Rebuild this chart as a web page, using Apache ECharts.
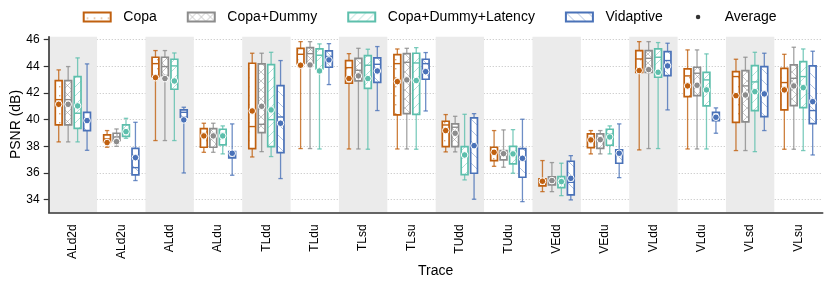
<!DOCTYPE html>
<html><head><meta charset="utf-8">
<script src="https://cdn.jsdelivr.net/npm/echarts@6/dist/echarts.min.js"></script>
<style>html,body{margin:0;padding:0;background:#fff}#c{width:831px;height:283px}</style>
</head><body><div id="c"></div>
<script>
// ---- data ----
const categories = ['ALd2d','ALd2u','ALdd','ALdu','TLdd','TLdu','TLsd','TLsu','TUdd','TUdu','VEdd','VEdu','VLdd','VLdu','VLsd','VLsu'];
const yTicks = [34, 36, 38, 40, 42, 44, 46];
const seriesNames = ['Copa', 'Copa+Dummy', 'Copa+Dummy+Latency', 'Vidaptive'];
const averageName = 'Average';

// [low whisker, Q1, median, Q3, high whisker]
const copaBox = [
  [38.33, 39.60, 41.50, 42.93, 43.73], [37.93, 38.33, 38.55, 38.85, 39.18],
  [38.43, 43.23, 44.20, 44.68, 45.18], [37.55, 37.93, 38.95, 39.33, 39.73],
  [37.20, 37.83, 39.48, 44.23, 44.98], [37.83, 44.20, 44.90, 45.35, 45.85],
  [37.80, 42.73, 43.90, 44.43, 44.95], [37.80, 40.35, 44.20, 44.88, 45.30],
  [37.58, 37.98, 39.60, 39.88, 40.38], [36.50, 36.93, 37.50, 37.93, 39.18],
  [34.60, 35.03, 35.30, 35.55, 36.93], [37.43, 37.90, 38.50, 38.93, 39.18],
  [37.73, 43.55, 44.55, 45.18, 45.85], [37.80, 41.73, 43.28, 43.80, 45.23],
  [37.68, 39.80, 43.23, 43.60, 44.53], [37.78, 40.73, 42.78, 43.85, 44.90]
];
const copaMean = [41.15, 38.28, 43.15, 38.78, 40.65, 44.08, 43.08, 42.85, 39.18, 37.55, 35.38, 38.48, 43.68, 42.53, 41.80, 42.23];

const dummyBox = [
  [38.33, 39.60, 41.50, 42.93, 43.98], [38.00, 38.43, 38.70, 38.98, 39.30],
  [38.43, 43.30, 43.98, 44.68, 45.18], [37.55, 37.93, 38.95, 39.33, 39.73],
  [37.60, 39.03, 39.65, 44.18, 44.98], [37.83, 44.23, 44.95, 45.40, 45.85],
  [37.80, 42.90, 43.70, 44.60, 45.35], [37.80, 40.45, 44.30, 44.95, 45.35],
  [37.58, 37.98, 39.43, 39.68, 40.25], [36.43, 36.98, 37.45, 37.68, 39.23],
  [34.60, 35.10, 35.40, 35.70, 36.78], [37.43, 37.85, 38.50, 38.93, 39.18],
  [37.83, 43.55, 44.60, 45.18, 45.85], [37.80, 41.80, 43.48, 43.93, 45.23],
  [37.68, 39.83, 42.53, 43.68, 44.68], [37.78, 41.05, 43.10, 44.10, 45.43]
];
const dummyMean = [41.15, 38.35, 43.08, 38.78, 41.00, 44.10, 43.28, 42.98, 38.98, 37.45, 35.43, 38.50, 43.75, 42.58, 41.85, 42.53];

const latencyBox = [
  [38.33, 39.35, 40.48, 43.23, 44.63], [38.60, 38.75, 39.20, 39.60, 40.10],
  [38.43, 42.28, 44.03, 44.53, 45.00], [37.43, 38.10, 38.90, 39.28, 39.53],
  [37.23, 37.98, 40.00, 44.13, 45.05], [37.80, 43.80, 44.83, 45.30, 45.68],
  [37.78, 42.35, 44.08, 44.80, 45.28], [37.78, 40.40, 44.25, 44.98, 45.40],
  [35.48, 35.88, 37.40, 37.98, 40.40], [35.98, 36.68, 37.45, 38.00, 39.25],
  [34.30, 34.90, 35.35, 35.73, 36.73], [37.43, 38.08, 38.93, 39.28, 39.53],
  [37.83, 43.18, 44.68, 45.30, 45.78], [37.80, 41.03, 42.98, 43.55, 44.93],
  [37.60, 40.68, 42.83, 44.05, 45.05], [37.68, 40.90, 43.23, 44.35, 45.30]
];
const latencyMean = [41.03, 39.10, 42.90, 38.78, 40.73, 43.65, 43.08, 42.93, 37.35, 37.43, 35.35, 38.70, 43.55, 42.23, 42.10, 42.40];

const vidaptiveBox = [
  [37.70, 39.18, 40.00, 40.55, 44.18], [35.43, 35.85, 36.40, 37.85, 39.80],
  [36.00, 40.18, 40.55, 40.73, 40.93], [35.83, 37.13, 37.30, 37.60, 39.68],
  [35.58, 37.53, 40.20, 42.55, 44.43], [42.63, 43.93, 44.73, 45.15, 45.70],
  [40.68, 42.80, 44.15, 44.63, 45.48], [40.65, 43.03, 44.20, 44.53, 45.03],
  [34.03, 35.98, 38.10, 40.13, 40.45], [33.85, 35.68, 37.00, 37.83, 40.03],
  [33.98, 34.35, 35.30, 36.88, 37.30], [35.65, 36.73, 37.60, 37.73, 39.68],
  [40.73, 43.30, 44.43, 45.10, 45.73], [38.98, 39.93, 40.18, 40.55, 40.88],
  [39.18, 40.23, 42.00, 43.98, 44.98], [37.35, 39.70, 40.68, 44.03, 45.13]
];
const vidaptiveMean = [39.93, 37.15, 39.98, 37.48, 39.73, 44.48, 43.65, 43.60, 38.05, 37.10, 35.60, 37.48, 44.03, 40.18, 41.93, 41.35];

// ---- styling ----
const colors = ['#c0600f', '#8c8c8c', '#5dbfac', '#4a72b8'];
const hatchColors = ['rgba(192,96,15,0.55)', 'rgba(140,140,140,0.6)', 'rgba(93,191,172,0.6)', 'rgba(74,114,184,0.55)'];
const offsets = [-0.293, -0.0977, 0.0977, 0.293];
const FONT = '"Liberation Sans", Arial, Helvetica, sans-serif';

function makePattern(kind, color) {
  const cv = document.createElement('canvas');
  let w = 8, h = 8;
  if (kind === 'dot') { w = 7; h = 9; }
  if (kind === 'x') { w = 9; h = 9; }
  if (kind === 'fwd') { w = 9; h = 9; }
  if (kind === 'back') { w = 11; h = 11; }
  cv.width = w; cv.height = h;
  const g = cv.getContext('2d');
  g.fillStyle = '#fff'; g.fillRect(0, 0, w, h);
  g.strokeStyle = color; g.fillStyle = color; g.lineWidth = 0.8;
  const line = (a, b, c, d) => { g.beginPath(); g.moveTo(a, b); g.lineTo(c, d); g.stroke(); };
  if (kind === 'dot') {
    g.fillRect(3, 5, 1.4, 1.4);
  } else if (kind === 'x') {
    line(0, 0, w, h); line(w, 0, 0, h);
  } else if (kind === 'fwd') {
    line(0, h, w, 0); line(-1, 1, 1, -1); line(w - 1, h + 1, w + 1, h - 1);
  } else if (kind === 'back') {
    line(0, 0, w, h); line(w - 1, -1, w + 1, 1); line(-1, h - 1, 1, h + 1);
  }
  return { image: cv, repeat: 'repeat' };
}
const patterns = [
  makePattern('dot', hatchColors[0]), makePattern('x', hatchColors[1]),
  makePattern('fwd', hatchColors[2]), makePattern('back', hatchColors[3])
];

const boxSets = [copaBox, dummyBox, latencyBox, vidaptiveBox];
const meanSets = [copaMean, dummyMean, latencyMean, vidaptiveMean];

function makeRender(si) {
  return function (params, api) {
    const ci = api.value(0);
    const band = api.size([1, 0])[0];
    const cx = api.coord([ci, 40])[0] + offsets[si] * band;
    const y = (k) => api.coord([ci, api.value(k)])[1];
    const yLo = y(1), yQ1 = y(2), yMed = y(3), yQ3 = y(4), yHi = y(5), yMean = y(6);
    const bw = 6.8, capW = 4.4;
    const col = colors[si];
    const wStyle = { stroke: col, lineWidth: 1.3, opacity: 0.8 };
    return {
      type: 'group',
      children: [
        { type: 'line', shape: { x1: cx, y1: yHi, x2: cx, y2: yQ3 }, style: wStyle },
        { type: 'line', shape: { x1: cx, y1: yQ1, x2: cx, y2: yLo }, style: wStyle },
        { type: 'line', shape: { x1: cx - capW / 2, y1: yHi, x2: cx + capW / 2, y2: yHi }, style: wStyle },
        { type: 'line', shape: { x1: cx - capW / 2, y1: yLo, x2: cx + capW / 2, y2: yLo }, style: wStyle },
        { type: 'rect', shape: { x: cx - bw / 2, y: yQ3, width: bw, height: yQ1 - yQ3 },
          style: { fill: patterns[si], stroke: col, lineWidth: 1.7 } },
        { type: 'line', shape: { x1: cx - bw / 2, y1: yMed, x2: cx + bw / 2, y2: yMed },
          style: { stroke: col, lineWidth: 1.4 } },
        { type: 'circle', shape: { cx: cx, cy: yMean, r: 3.3 },
          style: { fill: col, stroke: '#fff', lineWidth: 1 } }
      ]
    };
  };
}

const series = seriesNames.map((name, si) => ({
  name: name,
  type: 'custom',
  renderItem: makeRender(si),
  encode: { x: 0, y: [1, 2, 3, 4, 5, 6] },
  itemStyle: { color: patterns[si], borderColor: colors[si], borderWidth: 2 },
  data: categories.map((c, i) => [i].concat(boxSets[si][i], [meanSets[si][i]]))
}));
series.push({ name: averageName, type: 'scatter', data: [], itemStyle: { color: '#000' } });

const chart = echarts.init(document.getElementById('c'), null, { renderer: 'canvas' });
chart.setOption({
  animation: false,
  backgroundColor: '#fff',
  textStyle: { fontFamily: FONT },
  grid: { left: 48.7, right: 8.3, top: 36.7, bottom: 70.7, containLabel: false, outerBoundsMode: 'none' },
  legend: [
    {
      left: 77.7, top: 5, padding: 5, itemWidth: 27, itemHeight: 9, itemGap: 30,
      selectedMode: false,
      textStyle: { fontSize: 14, color: '#000', fontFamily: FONT, padding: [0, 0, 0, 7.6] },
      data: seriesNames.map((n, si) => ({
        name: n, icon: 'rect',
        itemStyle: { color: patterns[si], borderColor: colors[si], borderWidth: 2 }
      }))
    },
    {
      left: 690.8, top: 5, padding: 5, itemWidth: 27, itemHeight: 4.5,
      selectedMode: false,
      textStyle: { fontSize: 14, color: '#000', fontFamily: FONT, padding: [0, 0, 0, 8.2] },
      data: [{ name: averageName, icon: 'circle', itemStyle: { color: '#000' } }]
    }
  ],
  xAxis: {
    type: 'category',
    data: categories,
    boundaryGap: true,
    name: 'Trace',
    nameLocation: 'middle',
    nameGap: 52,
    nameMoveOverlap: false,
    nameTextStyle: { fontSize: 14, color: '#000', fontFamily: FONT },
    axisLine: { lineStyle: { color: '#333', width: 1.6 } },
    axisTick: { show: false },
    axisLabel: { rotate: 90, interval: 0, margin: 12, fontSize: 12, color: '#000', fontFamily: FONT },
    splitLine: { show: false },
    splitArea: { show: true, interval: 0, areaStyle: { color: ['#ebebeb', 'rgba(255,255,255,0)'] } }
  },
  yAxis: {
    type: 'value',
    min: 33.05,
    max: 46.22,
    name: 'PSNR (dB)',
    nameLocation: 'middle',
    nameGap: 26,
    nameMoveOverlap: false,
    nameTextStyle: { fontSize: 14, color: '#000', fontFamily: FONT },
    axisLine: { show: true, lineStyle: { color: '#333', width: 1.6 } },
    axisTick: { show: true, customValues: yTicks, length: 5, lineStyle: { color: '#333', width: 1.2 } },
    axisLabel: { customValues: yTicks, margin: 9, fontSize: 12, color: '#000', fontFamily: FONT },
    splitLine: { show: true, lineStyle: { color: '#bdbdbd', width: 0.8, type: [1.2, 1.8] } }
  },
  series: series
});
</script>
</body></html>
